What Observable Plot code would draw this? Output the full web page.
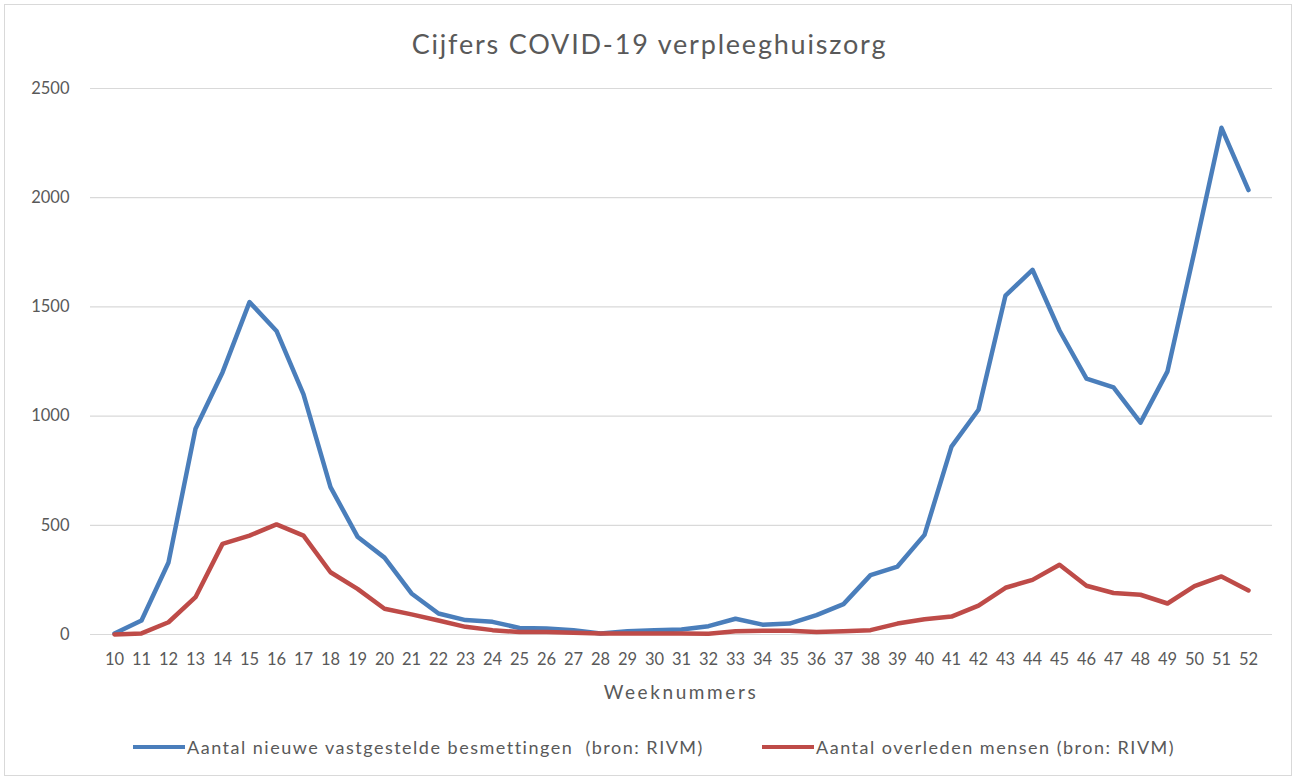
<!DOCTYPE html>
<html><head><meta charset="utf-8">
<script src="https://cdn.jsdelivr.net/npm/d3@7"></script>
<script src="https://cdn.jsdelivr.net/npm/@observablehq/plot@0.6"></script>
<style>
body{margin:0;background:#fff;font-family:Lato,"Open Sans",sans-serif;}
#wrap{position:relative;width:1299px;height:781px;overflow:hidden;background:#fff}
#frame{position:absolute;left:4px;top:4px;width:1288px;height:772px;border:1px solid #d9d9d9;box-sizing:border-box}
#title{position:absolute;top:27px;left:0;width:1299px;text-align:center;font-size:27px;letter-spacing:1.8px;color:#595959}
#chart{position:absolute;left:0;top:70px}
#xlabel{position:absolute;top:680px;left:90px;width:1182px;text-align:center;font-size:19px;letter-spacing:2.6px;color:#595959}
.leg{position:absolute;top:736px;font-size:18px;letter-spacing:1.5px;color:#595959;display:flex;align-items:center;white-space:pre}
.sw{display:inline-block;width:52px;height:4px;margin-right:2px}
</style></head>
<body>
<div id="wrap">
  <div id="frame"></div>
  <div id="title">Cijfers COVID-19 verpleeghuiszorg</div>
  <div id="chart"></div>
  <div id="xlabel">Weeknummers</div>
  <div class="leg" id="leg0" style="left:133px"></div>
  <div class="leg" id="leg1" style="left:762px"></div>
</div>
<script>
const weeks = [10,11,12,13,14,15,16,17,18,19,20,21,22,23,24,25,26,27,28,29,30,31,32,33,34,35,36,37,38,39,40,41,42,43,44,45,46,47,48,49,50,51,52];
const besmettingen = [5,64,330,942,1200,1522,1390,1100,675,448,352,188,96,66,58,30,28,20,5,15,20,23,38,72,45,50,89,139,272,311,456,860,1029,1552,1670,1392,1172,1132,970,1205,1755,2320,2035];
const overleden = [0,5,56,171,415,453,504,453,285,209,118,92,64,35,20,11,11,8,5,5,5,5,3,15,17,17,12,15,20,50,70,82,132,214,250,319,223,190,182,142,222,266,202];
const seriesNames = ["Aantal nieuwe vastgestelde besmettingen  (bron: RIVM)", "Aantal overleden mensen (bron: RIVM)"];
const colors = ["#4A7EBB", "#BE4B48"];
const yTicks = [0,500,1000,1500,2000,2500];

const data = [];
weeks.forEach((w,i) => {
  data.push({week:w, value:besmettingen[i], series:seriesNames[0]});
  data.push({week:w, value:overleden[i], series:seriesNames[1]});
});

const chart = Plot.plot({
  width:1299, height:610,
  marginLeft:90, marginRight:27, marginTop:18, marginBottom:46,
  style:{fontFamily:"Lato, 'Open Sans', sans-serif", fontSize:"16.5px", color:"#595959", background:"transparent"},
  x:{type:"point", domain:weeks, padding:0.5, label:null, tickSize:0, tickPadding:19},
  y:{domain:[0,2500], ticks:yTicks, tickFormat:d => String(d), label:null, tickSize:0, tickPadding:21},
  color:{domain:seriesNames, range:colors},
  marks:[
    Plot.ruleY(yTicks, {stroke:"#d9d9d9", strokeWidth:1.2}),
    Plot.lineY(data, {x:"week", y:"value", stroke:"series", z:"series", strokeWidth:4.5, strokeLinejoin:"round", strokeLinecap:"round"})
  ]
});
document.getElementById("chart").appendChild(chart);

seriesNames.forEach((n,i) => {
  const el = document.getElementById("leg"+i);
  const sw = document.createElement("span");
  sw.className = "sw"; sw.style.background = colors[i];
  el.appendChild(sw);
  el.appendChild(document.createTextNode(n));
});
</script>
</body></html>
